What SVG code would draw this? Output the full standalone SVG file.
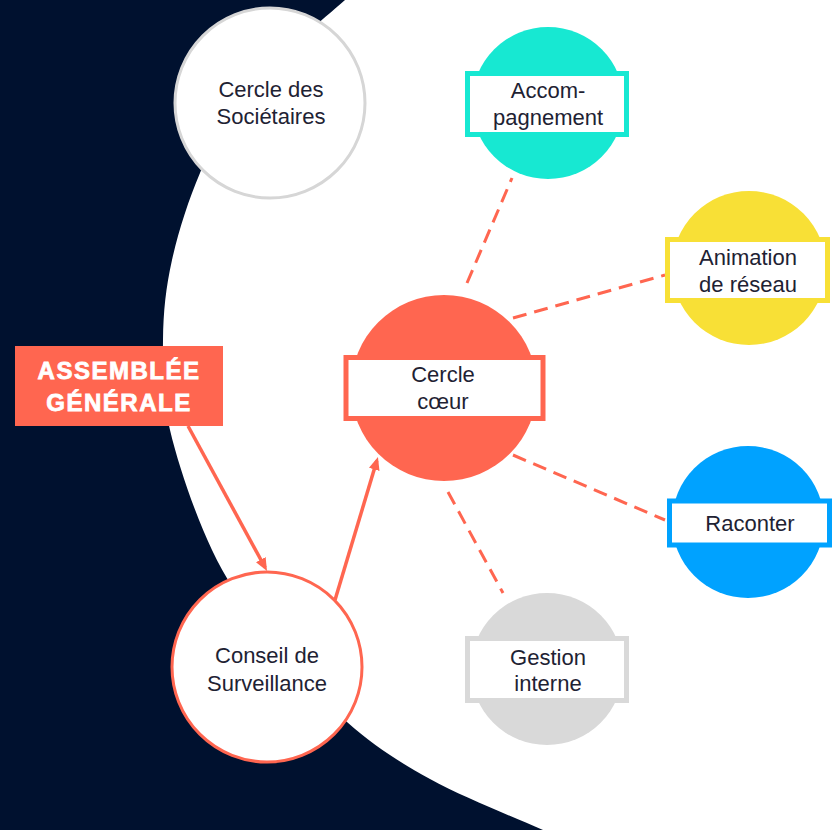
<svg xmlns="http://www.w3.org/2000/svg" width="835" height="830" viewBox="0 0 835 830">
  <style>
    .lbl { font-family: "Liberation Sans", Arial, sans-serif; font-size: 22px; fill: #1e2233; text-anchor: middle; }
    .ag { font-family: "Liberation Sans", Arial, sans-serif; font-size: 24px; font-weight: bold; fill: #ffffff; stroke: #ffffff; stroke-width: 0.8; text-anchor: middle; letter-spacing: 1.5px; }
    .box { fill: #ffffff; stroke-width: 5; }
    .dash { stroke: #ff6650; stroke-width: 3; stroke-dasharray: 14 8; fill: none; }
    .arrow { stroke: #ff6650; stroke-width: 3.5; fill: none; }
  </style>
  <defs>
    <marker id="arr" viewBox="0 0 13 11" refX="9" refY="5.5" markerWidth="13" markerHeight="11" orient="auto" markerUnits="userSpaceOnUse">
      <path d="M0,0 L13,5.5 L0,11 Z" fill="#ff6650"/>
    </marker>
  </defs>

  <rect id="background" x="0" y="0" width="835" height="830" fill="#00112f"/>
  <path id="big-white" fill="#ffffff" d="M 390,-40 L 345,0 C 320,21.8 266.2,67.2 242,96 C 217.8,124.8 211.7,145.7 200,173 C 188.3,200.3 178.2,232.2 172,260 C 165.8,287.8 163.3,311.7 163,340 C 162.7,368.3 161.8,395 170,430 C 178.2,465 195.7,515.7 212,550 C 228.3,584.3 245.5,607.3 268,636 C 290.5,664.7 320,698.2 347,722 C 374,745.8 397.3,761 430,779 C 462.7,797 511.3,816.2 543,830 L 620,862 L 900,862 L 900,-40 Z"/>

  <g id="connectors">
    <line class="dash" x1="467" y1="283" x2="512" y2="178"/>
    <line class="dash" x1="513" y1="318" x2="665" y2="275"/>
    <line class="dash" x1="513" y1="455" x2="665" y2="520"/>
    <line class="dash" x1="448" y1="492" x2="503" y2="593"/>
    <line class="arrow" x1="188" y1="426" x2="265.1" y2="567.5" marker-end="url(#arr)"/>
    <line class="arrow" x1="335" y1="600" x2="376.8" y2="460.8" marker-end="url(#arr)"/>
  </g>

  <g id="node-societaires">
    <circle cx="270" cy="103" r="95" fill="#ffffff" stroke="#d6d6d6" stroke-width="3"/>
    <text class="lbl" x="271" y="97">Cercle des</text>
    <text class="lbl" x="271" y="124">Sociétaires</text>
  </g>

  <g id="node-accompagnement">
    <circle cx="548" cy="103" r="76" fill="#17e8d2"/>
    <rect class="box" x="467.5" y="73.5" width="159" height="61" stroke="#17e8d2"/>
    <text class="lbl" x="548" y="98">Accom-</text>
    <text class="lbl" x="548" y="125">pagnement</text>
  </g>

  <g id="node-animation">
    <circle cx="749" cy="268" r="77" fill="#f8e036"/>
    <rect class="box" x="667.5" y="239.5" width="160" height="61" stroke="#f8e036"/>
    <text class="lbl" x="748" y="265">Animation</text>
    <text class="lbl" x="748" y="292">de réseau</text>
  </g>

  <g id="node-coeur">
    <circle cx="444" cy="388" r="93" fill="#ff6650"/>
    <rect class="box" x="346" y="357.5" width="197" height="61" stroke="#ff6650"/>
    <text class="lbl" x="443" y="382">Cercle</text>
    <text class="lbl" x="443" y="409">cœur</text>
  </g>

  <g id="node-raconter">
    <circle cx="748" cy="522" r="76" fill="#00a2ff"/>
    <rect class="box" x="669.5" y="501" width="160" height="44" stroke="#00a2ff"/>
    <text class="lbl" x="750" y="531">Raconter</text>
  </g>

  <g id="node-gestion">
    <circle cx="547" cy="669" r="76" fill="#d9d9d9"/>
    <rect class="box" x="467.5" y="638.5" width="159" height="62" stroke="#d9d9d9"/>
    <text class="lbl" x="548" y="665">Gestion</text>
    <text class="lbl" x="548" y="691">interne</text>
  </g>

  <g id="node-conseil">
    <circle cx="267" cy="667" r="95" fill="#ffffff" stroke="#ff6650" stroke-width="3"/>
    <text class="lbl" x="267" y="663">Conseil de</text>
    <text class="lbl" x="267" y="691">Surveillance</text>
  </g>

  <g id="node-assemblee">
    <rect x="15" y="346" width="208" height="80" fill="#ff6650"/>
    <text class="ag" x="119" y="379">ASSEMBLÉE</text>
    <text class="ag" x="119" y="411">GÉNÉRALE</text>
  </g>
</svg>
